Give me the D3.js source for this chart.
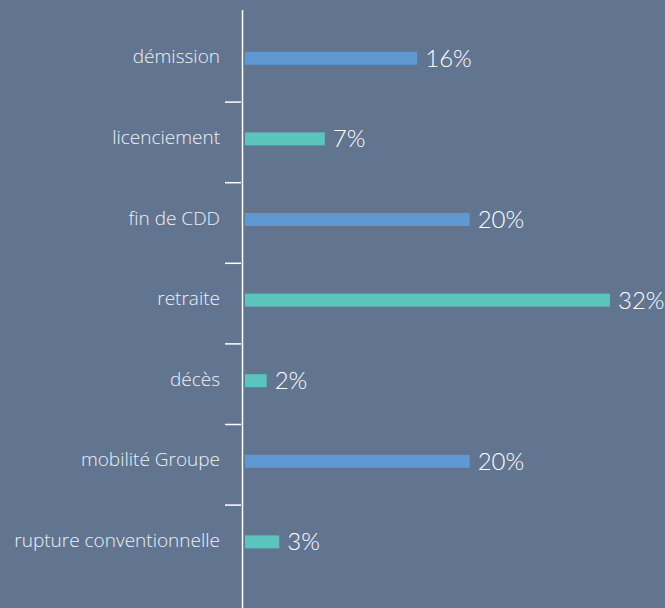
<!DOCTYPE html>
<html><head><meta charset="utf-8">
<script src="https://cdn.jsdelivr.net/npm/d3@7"></script>
<style>html,body{margin:0;padding:0;background:#617590;}svg{display:block;}</style>
</head><body>
<script>
const categories = ["démission","licenciement","fin de CDD","retraite","décès","mobilité Groupe","rupture conventionnelle"];
const values = [15.1, 7.0, 19.7, 32.0, 1.9, 19.7, 3.0];
const valueLabels = ["16%","7%","20%","32%","2%","20%","3%"];
const series = ["blue","teal","blue","teal","teal","blue","teal"];

const W = 665, H = 608;
const colors = {blue:"#5d98d2", teal:"#5bc4bd"};
const svg = d3.select("body").append("svg").attr("width",W).attr("height",H);
svg.append("rect").attr("width",W).attr("height",H).attr("fill","#617590");

const y = d3.scaleBand().domain(categories).range([21.5, 585.7]).padding(0);
const x = d3.scaleLinear().domain([0, 32]).range([245, 610]);
const barH = 13, shift = -3.5;

svg.selectAll("rect.bar").data(categories).enter().append("rect")
  .attr("class","bar")
  .attr("x", x(0))
  .attr("y", (d,i)=> y(d) + y.bandwidth()/2 + shift - barH/2)
  .attr("width", (d,i)=> x(values[i]) - x(0))
  .attr("height", barH)
  .attr("fill", (d,i)=> colors[series[i]]);

svg.append("line").attr("x1",242.5).attr("x2",242.5).attr("y1",10).attr("y2",H)
  .attr("stroke","#ffffff").attr("stroke-width",1.5);

svg.selectAll("line.tick").data(categories.slice(1)).enter().append("line")
  .attr("class","tick")
  .attr("x1",225).attr("x2",241)
  .attr("y1", d=> y(d)).attr("y2", d=> y(d))
  .attr("stroke","#ffffff").attr("stroke-width",1.5);

svg.selectAll("text.cat").data(categories).enter().append("text")
  .attr("class","cat")
  .attr("x", 220)
  .attr("y", d=> y(d) + y.bandwidth()/2 + shift - 1.5)
  .attr("dy","0.35em")
  .attr("text-anchor","end")
  .attr("fill","#eef1f5")
  .attr("font-family","'Open Sans', sans-serif")
  .attr("font-weight",300)
  .attr("font-size", 19)
  .text(d=>d);

svg.selectAll("text.val").data(categories).enter().append("text")
  .attr("class","val")
  .attr("x", (d,i)=> x(values[i]) + 8)
  .attr("y", (d,i)=> y(d) + y.bandwidth()/2 + shift)
  .attr("dy","0.35em")
  .attr("fill","#ffffff")
  .attr("font-family","Lato, sans-serif")
  .attr("font-weight",300)
  .attr("font-size", 24)
  .text((d,i)=> valueLabels[i]);
</script>
</body></html>
